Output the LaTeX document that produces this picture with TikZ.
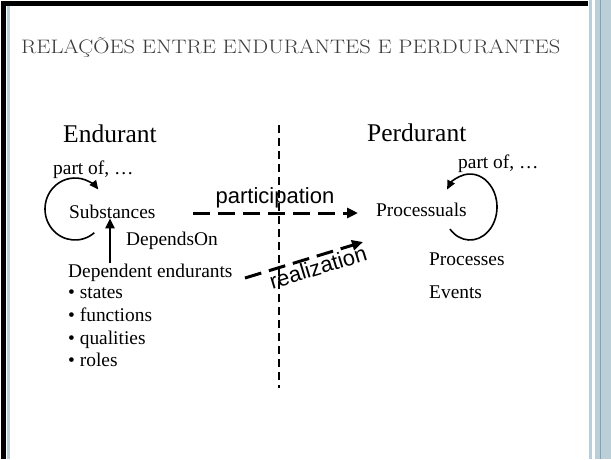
\documentclass[tikz,border=0pt]{standalone}
\usepackage{fontspec}
\usepackage{graphicx}
\newfontfamily\serifTNR{Liberation Serif}
\newfontfamily\sansAr{Liberation Sans}
\usetikzlibrary{arrows.meta}
\definecolor{framebl}{HTML}{BACFD8}
\definecolor{framedk}{HTML}{7FA6B6}
\definecolor{titlegray}{HTML}{3A3A3A}
\begin{document}
\begin{tikzpicture}[x=1pt,y=1pt,
  txt/.style={font=\serifTNR\fontsize{19.4}{22}\selectfont, inner sep=0pt, anchor=base west},
  big/.style={font=\serifTNR\fontsize{25.5}{30}\selectfont, inner sep=0pt, anchor=base west},
  rel/.style={font=\sansAr\fontsize{22}{26}\selectfont, inner sep=0pt},
  dasharrow/.style={line width=3pt, dash pattern=on 17pt off 8pt, -{Triangle[length=11pt,width=10pt]}},
  vdash/.style={line width=2.5pt, dash pattern=on 8pt off 5pt},
  looparrow/.style={line width=1.6pt, -{Triangle[length=9pt,width=8pt]}},
  uparrow/.style={line width=2.5pt, -{Triangle[length=10pt,width=9pt]}}]
\useasboundingbox (0,0) rectangle (611,-459);
\fill[white] (0,0) rectangle (611,-459);
% frame
\fill[black] (1,-1) rectangle (588,-5.5);
\fill[black] (1,-1) rectangle (6,-459);
\fill[framebl] (7.3,-5.5) rectangle (10,-459);
\fill[framebl] (589,0) rectangle (592,-459);
\fill[framebl] (595,0) rectangle (611,-459);
\fill[framedk] (599.5,0) rectangle (600.7,-459);
% title
\node[inner sep=0pt, anchor=base west, font=\fontsize{19.5}{22}\selectfont, text=titlegray] (title) at (21,-53)
  {\resizebox{539pt}{\height}{RELAÇÕES ENTRE ENDURANTES E PERDURANTES}};
% headings
\node[big] (endurant) at (63,-142) {Endurant};
\node[big] (perdurant) at (367,-141) {Perdurant};
% left side
\node[txt] (partofL) at (53,-174) {part of, …};
\node[txt] (subst) at (69,-218) {Substances};
\node[txt] (depon) at (126,-245) {DependsOn};
\node[txt] (depend) at (68,-277) {Dependent endurants};
\node[txt] (b1) at (68,-298.5) {• states};
\node[txt] (b2) at (68,-321.3) {• functions};
\node[txt] (b3) at (68,-344.1) {• qualities};
\node[txt] (b4) at (68,-366.9) {• roles};
% right side
\node[txt] (partofR) at (458,-168) {part of, …};
\node[txt] (procl) at (376,-216) {Processuals};
\node[txt] (procs) at (429,-265) {Processes};
\node[txt] (events) at (429,-298) {Events};
% loops
\coordinate (loopL) at (75,-209);
\coordinate (loopR) at (470,-207);
\draw[looparrow] ([shift={(-50:30 and 31)}]loopL) arc[start angle=-50, end angle=-321, x radius=30, y radius=31];
\draw[looparrow] ([shift={(-138:27 and 33)}]loopR) arc[start angle=-138, end angle=148, x radius=27, y radius=33];
% depends on arrow
\coordinate (arrx) at (110,0);
\draw[uparrow] (depend.north -| arrx) -- (subst.south -| arrx);
% vertical dashed divider
\coordinate (vtop) at (279,-125);
\coordinate (vbot) at (279,-388);
\draw[vdash] (vtop) -- (vbot);
% participation
\coordinate (pS) at (193,-213);
\coordinate (pE) at (358,-213);
\draw[dasharrow] (pS) -- (pE);
\node[rel, anchor=base] (partic) at (275,-203) {participation};
% realization
\coordinate (rS) at (245,-278);
\coordinate (rE) at (363,-242);
\draw[dasharrow] (rS) -- (rE);
\node[rel, rotate=17] (realiz) at (318,-267) {realization};
\end{tikzpicture}
\end{document}
